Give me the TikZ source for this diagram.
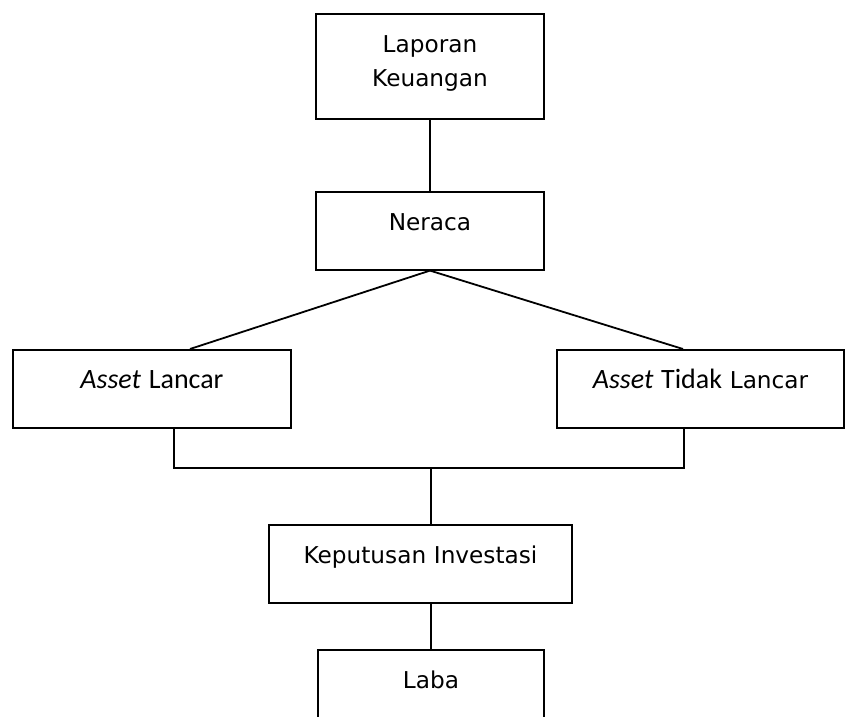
\documentclass[tikz,border=0pt]{standalone}
\usepackage{fontspec}
\setmainfont{DejaVu Sans}
\newfontfamily\carlito{Carlito}
\usetikzlibrary{positioning}
\tikzset{
  kotak/.style 2 args={rectangle, draw=black, line width=0.9pt,
    inner sep=0pt, anchor=north, align=center,
    text width=#1, text height=19.5pt, text depth=#2,
    font=\fontsize{11.6}{17}\selectfont},
  garis/.style={draw=black, line width=0.9pt},
}

\begin{document}
\begin{tikzpicture}
  \useasboundingbox (0,0) rectangle (423pt,-358.5pt);
  \node[kotak={114pt}{33pt}] (lap) at (215pt,-6.5pt) {Laporan\\Keuangan};
  \node[kotak={114pt}{19.5pt}, below=35.5pt of lap] (neraca) {Neraca};

  \node[kotak={139pt}{19.5pt}] (lancar) at (76pt,-174.5pt)
    {\carlito\fontsize{14}{17}\selectfont\textit{Asset} Lancar};
  \node[kotak={143.5pt}{19.5pt}] (tlancar) at (350.25pt,-174.5pt)
    {{\carlito\fontsize{14}{17}\selectfont\textit{Asset} Tidak} Lancar};

  \node[kotak={151.5pt}{19.5pt}] (invest) at (210.25pt,-262pt)
    {Keputusan Investasi};
  \node[kotak={113pt}{19.5pt}, below=22.5pt of invest, xshift=5.25pt]
    (laba) {Laba};

  \coordinate (temu) at (215.5pt,-234pt);

  \draw[garis] (lap) -- (neraca);
  \draw[garis] (neraca.south) -- ([xshift=19pt]lancar.north);
  \draw[garis] (neraca.south) -- ([xshift=-8.75pt]tlancar.north);
  \draw[garis] ([xshift=11pt]lancar.south) |- (temu)
    -| ([xshift=-8.25pt]tlancar.south);
  \draw[garis] (temu) -- ([xshift=5.25pt]invest.north);
  \draw[garis] ([xshift=5.25pt]invest.south) -- (laba.north);
\end{tikzpicture}
\end{document}
